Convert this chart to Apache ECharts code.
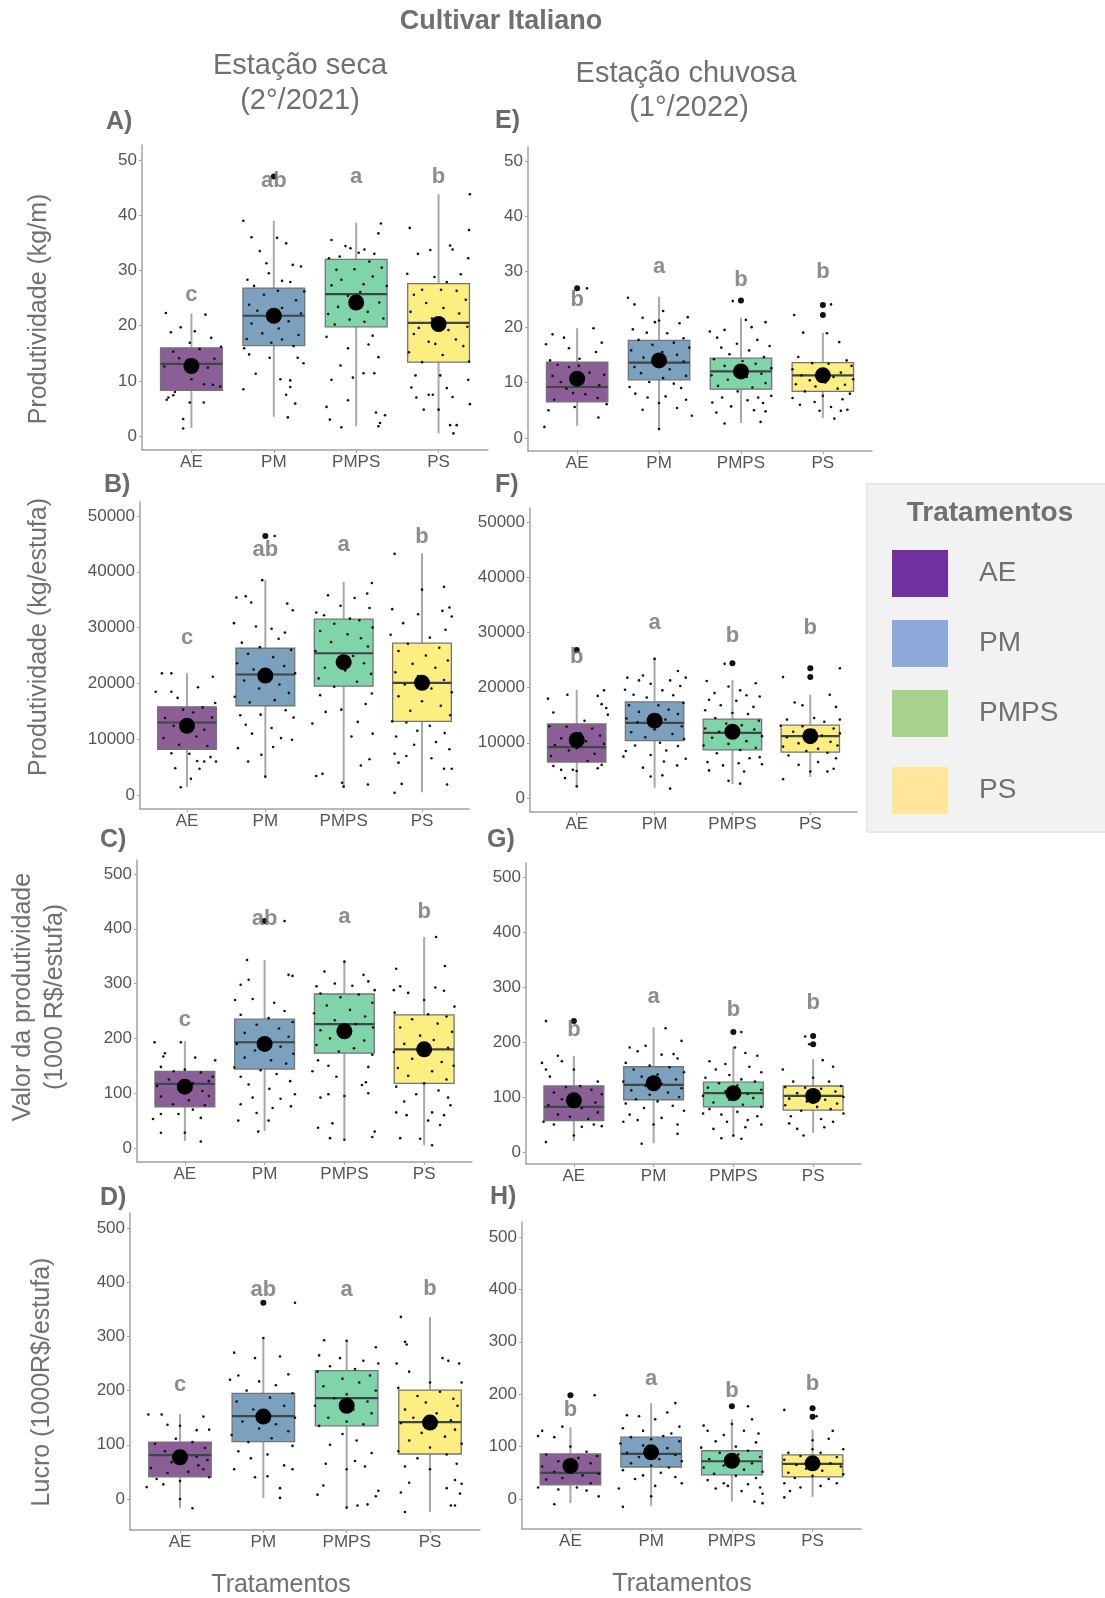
<!DOCTYPE html>
<html>
<head>
<meta charset="utf-8">
<script src="https://cdn.jsdelivr.net/npm/echarts@6/dist/echarts.min.js"></script>
<style>
html,body{margin:0;padding:0;background:#fff}
#chart{width:1105px;height:1598px}
</style>
</head>
<body>
<div id="chart"></div>
<script>
// ---------- data ----------
const categories = ['AE', 'PM', 'PMPS', 'PS'];
const ticksKgM = [0, 10, 20, 30, 40, 50];
const ticksKgEstufa = [0, 10000, 20000, 30000, 40000, 50000];
const ticksReais = [0, 100, 200, 300, 400, 500];

// box stats per treatment: [whisker low, Q1, median, Q3, whisker high]
// A) Produtividade (kg/m) - estação seca
const boxA = [[1.5, 8.3, 13.1, 16, 22.2], [3.5, 16.4, 21.8, 26.8, 39], [1.8, 19.8, 25.7, 32, 38.6], [0.5, 13.4, 20.5, 27.6, 43.8]];
const meanA = [12.7, 21.8, 24.2, 20.3];
const letterA = ['c', 'ab', 'a', 'b'];
const letterYA = [25.5, 46.2, 47, 47];
const outA = [[], [47], [], []];
const jitA = [
  [[-.31,22.3],[.17,22],[-.13,19.7],[.04,19],[-.25,18.8],[.24,17.8],[-.02,16.9],[.36,16.2],[-.22,15.3],[.1,15.8],[-.15,14.1],[.28,14],[-.05,13.8],[.2,12.4],[-.33,12.6],[0,10.3],[.15,9.4],[.26,9.3],[.35,9],[-.2,8],[-.28,7],[-.22,7.4],[-.3,6.6],[-.02,6.1],[.15,6.1],[-.1,3.1],[-.1,1.4]],
  [[-.37,39],[-.27,36],[.04,35.9],[.15,34.9],[-.17,33.5],[-.09,31.3],[.23,31],[.33,30.7],[-.06,29.5],[-.32,28.3],[.1,28.1],[.2,27.9],[-.24,27.2],[.05,26.3],[.37,26.2],[-.12,25.6],[.27,24.6],[-.3,23.8],[.1,23.2],[-.2,22.7],[.33,22.2],[-.05,21.4],[.18,20.8],[-.27,20.4],[.06,19.5],[-.14,18.6],[.3,18.3],[-.33,17.6],[.1,17.5],[-.03,16.9],[.24,16.3],[-.36,15.9],[-.3,14.8],[.29,14.2],[-.05,14.2],[.36,13.2],[-.22,11.3],[.08,10.3],[.2,10.1],[-.37,8.5],[.2,8.9],[.26,5.9],[.15,7.5],[.17,3.4]],
  [[.3,38.5],[.27,36.7],[-.3,35.5],[-.13,34.4],[-.07,34],[.1,33.8],[.03,33.2],[.22,33],[-.33,32.2],[-.2,32.5],[.16,31.6],[-.24,30.1],[-.02,30.2],[.31,30.5],[.2,28.9],[-.18,28.3],[.09,27.5],[-.3,27.3],[.37,27.2],[.05,26.1],[-.1,25.4],[.28,24.2],[-.22,23.4],[.14,22.5],[-.34,22.1],[.33,21.3],[-.08,21.1],[.1,20.7],[-.26,20.2],[.2,18.2],[-.36,18],[.15,16.6],[-.1,15.9],[.27,14.3],[-.19,12.8],[.09,11.4],[.22,11.4],[-.3,10.2],[-.04,10.6],[-.1,6.5],[-.36,5.3],[-.32,3],[.24,4.3],[.35,3.8],[.29,2.4],[.27,1.8],[-.18,1.6]],
  [[.38,43.8],[-.35,37.7],[.37,37.3],[.14,34.5],[-.1,33.7],[-.25,33],[.17,33.8],[.27,29.3],[-.38,29.4],[.36,32.2],[.1,27.9],[-.05,28.8],[.03,26.5],[-.2,26.5],[.22,26.3],[.33,24.7],[-.3,25.6],[-.15,24.1],[.06,23.2],[-.34,22.5],[.25,22.2],[-.08,21.3],[.35,19.8],[-.24,19.6],[.12,19.2],[-.3,18.5],[.21,17.5],[-.12,17.1],[.3,16.3],[-.04,16.7],[-.36,15.2],[.05,14.7],[.37,13.5],[-.2,13.4],[-.28,11],[.02,11],[.36,10.2],[-.33,8.8],[.1,8.7],[-.12,7.5],[-.07,7.5],[.17,7.1],[-.27,7],[.38,5.8],[-.18,4.8],[0,4.8],[.14,2],[.22,2],[.18,.5]]
];

// E) Produtividade (kg/m) - estação chuvosa
const boxE = [[2.2, 6.5, 9.2, 13.7, 19.8], [1.5, 10.5, 13.6, 17.6, 25.5], [2.7, 8.8, 12, 14.4, 21.7], [3.6, 8.4, 11.3, 13.6, 19]];
const meanE = [10.7, 14, 12, 11.3];
const letterE = ['b', 'a', 'b', 'b'];
const letterYE = [24.9, 30.9, 28.5, 30];
const outE = [[27], [], [24.8], [22.2, 24]];
const jitE = [
  [[.12,27],[-.38,16.9],[-.3,18.7],[-.16,18.1],[-.1,16.2],[.2,19.8],[.3,17.2],[.23,15.5],[.03,14.3],[-.33,14],[-.24,13.2],[-.1,12.8],[.02,13],[.33,11.4],[-.3,11.2],[.15,11.8],[-.2,10.1],[.05,9.8],[.27,9.5],[-.13,8.9],[-.05,8.1],[.1,7.9],[.25,7.2],[-.28,6.9],[.36,6.1],[-.03,5.6],[-.35,5],[.26,3.7],[-.4,2]],
  [[-.38,25.3],[-.3,24.1],[.05,22.9],[.35,21.8],[-.2,21.7],[0,21.2],[-.05,20.9],[.25,20.7],[-.32,19.6],[-.15,19],[.1,18.9],[.3,18],[-.25,17.7],[.18,17.2],[-.08,16.8],[.37,16.3],[-.34,15.8],[.04,15.5],[.22,15],[-.19,14.5],[.3,13.8],[-.04,13.2],[-.3,12.8],[.13,12.4],[-.22,11.7],[.33,11.2],[.05,10.8],[-.12,10.1],[.18,9.8],[-.36,9.2],[.27,9],[-.29,8],[.08,7.5],[-.14,7.3],[.33,6.9],[0,6.3],[-.2,5.1],[.22,5.4],[.4,4],[0,1.6]],
  [[-.38,19.2],[-.2,19.5],[-.1,24.7],[.06,21.3],[.3,20.9],[.13,20],[-.29,18.1],[.2,17.7],[-.05,17],[.35,16.6],[-.24,16.3],[.1,15.8],[-.14,15.1],[.28,14.6],[-.33,14.2],[.02,13.9],[.18,13.4],[-.2,13],[.37,12.6],[-.06,12.2],[.25,11.6],[-.36,11.3],[.07,11],[-.16,10.5],[.3,9.9],[-.28,9.4],[.14,9.1],[-.04,8.4],[.37,7.6],[-.23,7.3],[.21,7.3],[-.35,6.4],[.08,6.8],[.27,6.3],[-.12,5.7],[.16,5],[-.3,4.6],[.3,4.8],[.24,2.9],[-.2,2.6]],
  [[-.35,22.2],[.1,24.1],[-.24,19],[.2,17.3],[.05,18.9],[-.3,14.6],[.29,14],[-.13,13.5],[.07,13.4],[.35,13],[-.37,12.4],[-.05,12.2],[.22,11.8],[-.26,11.3],[.13,11],[.37,10.6],[-.16,10.4],[.03,10],[-.33,9.7],[.27,9.6],[-.09,9.3],[.18,8.9],[-.22,8.4],[.33,8],[0,7.6],[-.37,7.2],[.24,7],[-.1,6.5],[.1,5.6],[-.28,6],[.3,5.1],[.22,4.9],[-.04,4.9],[.14,3.5]]
];

// B) Produtividade (kg/estufa) - estação seca
const boxB = [[1400, 8200, 13000, 15800, 21800], [3400, 16000, 21600, 26300, 38500], [1500, 19500, 25400, 31500, 38200], [500, 13200, 20100, 27200, 43300]];
const meanB = [12400, 21400, 23800, 20100];
const letterB = ['c', 'ab', 'a', 'b'];
const letterYB = [28100, 44000, 44800, 46200];
const outB = [[], [46400], [], []];
const jitB = [
  [[-.32,21800],[-.2,21800],[.33,21200],[.14,19300],[-.4,18500],[-.2,18500],[-.12,17400],[.36,16500],[.2,15700],[-.05,15300],[.08,14800],[-.28,13800],[.32,13900],[0,13200],[-.17,12400],[.22,11700],[-.3,10200],[.12,10500],[-.1,9000],[.26,8800],[-.2,7500],[.03,7400],[.3,6800],[.13,6100],[.22,6000],[.37,6000],[-.15,4800],[.16,4700],[.05,2900],[-.08,1400]],
  [[.12,46400],[-.04,38500],[-.37,35400],[-.25,35600],[-.18,34500],[.28,34300],[.35,33100],[-.4,30800],[.08,29800],[-.12,30200],[.25,29100],[.17,28000],[-.3,27300],[-.07,26500],[.33,26000],[-.22,25300],[.1,24700],[-.36,23600],[.24,23100],[-.15,22500],[.38,21800],[.04,21200],[-.27,20500],[.18,19800],[-.08,19100],[.3,18300],[-.39,17600],[.12,17000],[-.2,16600],[.26,15200],[-.32,14300],[-.06,14400],[.36,13900],[-.25,12600],[.08,12000],[-.17,11000],[.2,10200],[.34,9900],[-.35,8400],[.1,8600],[-.05,7200],[-.22,6000],[0,3300]],
  [[.36,38000],[.3,36100],[-.2,35800],[.14,35300],[-.04,33900],[.33,33500],[-.35,32700],[-.25,32200],[.08,31600],[.2,31300],[-.12,30700],[.37,30000],[-.3,29400],[.05,28800],[.22,28100],[-.16,27400],[.31,26600],[-.36,25800],[.12,24900],[-.07,24300],[.26,23600],[-.24,22800],[.02,22300],[.35,21700],[-.32,20900],[.17,20300],[-.12,19400],[.36,18200],[-.3,17900],[.28,16300],[-.03,15300],[-.23,14900],[.18,13100],[.1,10500],[.37,11000],[-.4,12800],[.22,5300],[.33,6400],[-.27,3800],[-.02,2200],[0,1500],[.31,1900],[-.35,3400]],
  [[-.35,43200],[0,36800],[.28,37300],[-.38,33300],[.35,33600],[.26,33000],[-.05,32400],[.38,32000],[-.24,30800],[.3,29600],[-.4,28700],[.1,28200],[-.18,27100],[.22,26400],[-.3,25800],[.05,25000],[.33,24100],[-.12,23500],[.17,22800],[-.34,22000],[-.05,21300],[.28,20600],[-.22,19800],[.12,19100],[.38,18400],[-.3,17700],[0,16800],[.24,16000],[-.15,15100],[.36,14300],[-.38,13200],[-.2,13000],[.1,12400],[-.06,11500],[.29,11100],[-.33,10500],[.18,9500],[-.1,9000],[.35,8200],[-.35,7400],[-.2,7000],[.12,6600],[.28,4700],[.38,4700],[-.3,5800],[-.26,2000],[.32,1900],[-.35,400]]
];

// F) Produtividade (kg/estufa) - estação chuvosa
const boxF = [[2200, 6500, 9200, 13400, 19600], [1800, 10400, 13600, 17400, 25400], [2500, 8700, 11800, 14300, 21400], [3800, 8300, 11200, 13200, 18700]];
const meanF = [10500, 14000, 12000, 11200];
const letterF = ['b', 'a', 'b', 'b'];
const letterYF = [25500, 31700, 29300, 30800];
const outF = [[26800], [], [24400], [23500, 21900]];
const jitF = [
  [[-.37,18000],[.27,18500],[.35,19500],[-.12,18700],[.32,17000],[.38,16300],[-.3,15500],[.1,14000],[.4,15100],[-.35,13000],[-.13,12900],[.2,12600],[.05,11700],[.3,11300],[-.2,10800],[.12,10300],[-.28,9600],[.35,9800],[0,9000],[-.1,8600],[.23,8000],[-.33,7600],[.14,6700],[.32,6000],[-.3,5800],[-.2,5100],[.27,5400],[-.05,5100],[0,4900],[-.15,3600],[0,2100]],
  [[0,25200],[.3,23000],[-.15,22200],[-.35,21800],[.4,21800],[-.2,21300],[.2,21300],[-.05,20700],[.33,20300],[-.38,19600],[.1,19500],[-.27,18700],[.24,18600],[-.1,18200],[.37,17200],[-.33,16800],[.05,16800],[.18,16000],[-.2,15600],[.3,15200],[-.06,14900],[-.36,14400],[.14,14200],[-.22,13700],[.35,13000],[0,12400],[-.3,11900],[.23,11600],[-.12,11000],[.38,10700],[.07,10000],[-.25,9500],[.3,9400],[-.37,8500],[.15,8600],[-.05,7800],[-.4,7500],[.4,7100],[.12,6600],[-.15,5500],[.29,5900],[.1,4100],[-.05,3900],[.2,1700]],
  [[-.1,24300],[-.33,21200],[.3,20800],[-.05,20200],[.1,19500],[-.23,19000],[.18,18600],[-.3,17800],[.35,18400],[.05,17600],[-.15,16800],[.27,16500],[-.35,15900],[0,15400],[.2,15200],[-.22,14500],[.34,14000],[-.08,13500],[.12,13200],[-.35,12600],[.28,12400],[-.17,12000],[.05,11500],[.38,11200],[-.26,10900],[.18,10300],[-.05,9800],[-.37,9500],[.3,9100],[.1,8700],[-.2,8100],[.35,7400],[.22,7200],[-.32,6500],[.08,6300],[-.12,5900],[.38,6100],[-.3,5000],[.15,4800],[-.05,3100],[.1,2600]],
  [[.25,18700],[-.2,17300],[-.1,16800],[.33,16500],[.05,14500],[-.3,14200],[.38,14200],[.18,13800],[-.38,13100],[-.1,13000],[.3,12600],[.05,12300],[-.22,12000],[.38,11700],[.15,11300],[-.3,11000],[0,10500],[.26,10200],[-.15,9900],[.35,9500],[-.35,9300],[.1,8900],[-.05,8500],[.22,8200],[-.28,7700],[.33,7200],[.1,6500],[-.15,6000],[.3,5300],[0,4800],[.22,4800],[-.35,3400],[-.35,21900],[.38,23500]]
];

// C) Valor da produtividade (1000 R$/estufa) - estação seca
const boxC = [[13, 75, 117, 140, 195], [31, 144, 193, 235, 343], [16, 173, 226, 281, 340], [5, 118, 180, 243, 385]];
const meanC = [112, 190, 213, 180];
const letterC = ['c', 'ab', 'a', 'b'];
const letterYC = [234, 418, 421, 430];
const outC = [[], [414], [], []];
const jitC = [
  [[-.38,193],[-.05,193],[.13,165],[-.25,173],[-.27,167],[.38,160],[-.3,148],[0,143],[-.14,140],[.2,138],[.35,130],[-.2,125],[.3,122],[.1,118],[-.35,113],[-.08,109],[.22,104],[.3,95],[-.3,94],[.05,87],[-.15,80],[.25,78],[.1,70],[-.3,62],[-.08,62],[.2,55],[-.4,53],[0,28],[-.3,28],[.2,12]],
  [[.25,414],[-.22,343],[-.2,307],[-.3,298],[.3,316],[.35,314],[-.37,270],[-.15,272],[.12,265],[.25,250],[-.3,243],[.05,237],[.35,230],[-.1,225],[.18,218],[-.25,210],[.3,203],[0,197],[-.35,190],[.2,185],[-.12,178],[.36,172],[-.25,165],[.08,160],[.27,154],[-.38,147],[-.05,142],[.15,135],[-.3,130],[.32,122],[-.2,116],[.06,108],[.38,98],[-.15,92],[.2,90],[.33,76],[-.3,80],[.1,73],[-.1,64],[-.33,50],[.05,50],[-.08,30]],
  [[0,340],[-.25,322],[.24,316],[.3,304],[-.35,295],[-.12,300],[.1,296],[.38,288],[-.3,282],[.18,280],[-.05,275],[.35,265],[-.22,260],[.07,252],[-.38,246],[.26,240],[-.12,233],[.14,226],[.36,220],[-.3,215],[.03,208],[-.18,200],[.25,196],[-.35,188],[.12,182],[-.07,176],[.35,170],[-.33,160],[-.2,150],[.3,148],[-.4,140],[-.1,130],[.27,120],[.22,115],[.3,100],[-.2,98],[-.3,92],[0,95],[-.15,45],[-.33,37],[.38,30],[.35,20],[-.18,18],[0,15]],
  [[.15,385],[.26,332],[-.35,327],[-.3,295],[-.38,288],[.14,293],[.25,287],[-.2,283],[0,270],[.38,258],[-.37,247],[.05,244],[.28,240],[-.15,235],[.17,227],[-.3,220],[.35,212],[-.05,205],[.12,197],[-.25,190],[.3,183],[-.38,175],[.05,170],[-.15,163],[.22,157],[.37,150],[-.33,146],[.1,140],[-.2,132],[.28,125],[0,118],[-.35,112],[.18,105],[-.1,98],[.3,92],[-.25,85],[.33,78],[.1,65],[-.22,60],[-.35,65],[.25,60],[.05,50],[.2,42],[-.3,18],[.1,5],[-.05,17]]
];

// G) Valor da produtividade (1000 R$/estufa) - estação chuvosa
const boxG = [[20, 57, 82, 120, 175], [16, 95, 122, 155, 227], [27, 82, 107, 127, 191], [35, 76, 102, 120, 169]];
const meanG = [94, 125, 107, 102];
const letterG = ['b', 'a', 'b', 'b'];
const letterYG = [222, 282, 258, 271];
const outG = [[238], [], [218], [211, 196]];
const jitG = [
  [[-.35,238],[-.4,162],[-.35,150],[-.2,175],[-.15,165],[0,150],[.3,128],[-.3,137],[.08,120],[-.1,118],[.22,113],[-.25,108],[.35,105],[0,100],[-.15,96],[.27,90],[-.32,85],[.1,80],[.3,72],[-.2,68],[-.05,64],[.18,60],[-.38,55],[.25,50],[.35,47],[.1,46],[-.25,50],[0,30],[-.35,18]],
  [[.15,225],[-.3,190],[.35,202],[-.1,193],[.25,178],[-.2,183],[.1,177],[.3,170],[-.35,162],[-.05,157],[.2,154],[-.25,150],[.38,145],[.05,141],[-.15,137],[.28,132],[-.38,128],[.1,124],[-.1,120],[.35,116],[-.28,112],[.18,108],[-.05,104],[.32,100],[-.22,96],[.05,92],[-.35,88],[.24,84],[-.12,80],[.38,75],[-.3,68],[.1,62],[-.2,58],[.3,50],[-.38,55],[0,50],[.3,33],[-.15,15]],
  [[.1,218],[.02,190],[-.3,165],[.15,180],[.3,175],[-.1,160],[.2,155],[-.22,150],[.35,145],[-.05,140],[-.35,135],[.1,132],[.27,128],[-.18,125],[.05,121],[-.32,117],[.35,113],[-.1,110],[.18,106],[-.38,102],[.25,98],[-.05,95],[-.25,90],[.12,86],[.35,82],[-.3,78],[.05,73],[-.15,68],[.3,65],[-.38,70],[.18,58],[-.08,55],[.35,50],[.15,45],[-.25,42],[0,30],[-.15,25],[.1,24]],
  [[-.1,210],[-.05,196],[-.38,150],[.25,155],[.12,167],[0,135],[-.25,128],[.2,128],[.35,120],[-.35,118],[-.1,117],[.1,115],[.28,110],[-.2,107],[.05,104],[.38,100],[-.3,97],[.15,95],[-.08,92],[.3,88],[-.35,85],[.05,82],[.22,78],[-.15,75],[.38,70],[-.28,65],[.1,60],[-.3,52],[.25,55],[-.2,42],[.14,45],[-.12,30]]
];

// D) Lucro (1000R$/estufa) - estação seca
const boxD = [[-17, 41, 81, 105, 157], [2, 106, 153, 195, 297], [-16, 135, 186, 237, 293], [-24, 83, 142, 201, 336]];
const meanD = [77, 152, 172, 141];
const letterD = ['c', 'ab', 'a', 'b'];
const letterYD = [210, 386, 386, 387];
const outD = [[], [362], [], []];
const jitD = [
  [[-.38,156],[-.22,156],[.28,152],[-.15,137],[0,135],[.2,127],[.35,128],[-.05,111],[.15,105],[-.3,102],[.3,94],[-.18,88],[0,83],[.2,78],[.33,72],[-.1,68],[.22,62],[-.35,57],[.28,55],[.1,50],[-.15,48],[.35,40],[-.28,37],[0,33],[-.2,27],[-.4,22],[0,0],[.15,-17]],
  [[.38,362],[0,297],[-.35,270],[-.1,260],[-.4,220],[-.3,228],[.2,263],[.3,230],[-.05,217],[.15,210],[-.2,200],[.35,195],[.08,187],[-.32,180],[.25,172],[-.12,165],[.02,158],[.38,150],[-.25,143],[.15,138],[-.05,130],[.3,125],[-.38,118],[.1,112],[-.18,105],[.35,98],[-.3,88],[.05,82],[-.15,75],[.25,62],[-.35,55],[.35,55],[.05,42],[-.1,40],[.2,20],[.2,2]],
  [[-.27,293],[0,292],[.35,280],[-.33,265],[-.08,260],[.2,255],[.38,250],[-.2,245],[.1,240],[-.35,235],[.28,228],[-.05,222],[.15,215],[-.28,208],[.35,200],[0,193],[-.15,186],[.25,180],[-.38,172],[.08,165],[.3,158],[-.22,150],[0,143],[.2,138],[-.33,135],[-.05,120],[.12,108],[-.2,100],[.3,85],[.1,70],[-.25,65],[0,55],[.22,60],[-.28,25],[.38,15],[-.35,8],[.35,5],[.25,-10],[.13,-12],[0,-16]],
  [[-.35,336],[-.3,290],[-.28,285],[-.4,250],[.15,260],[.22,255],[.35,250],[-.25,235],[0,215],[.38,215],[-.38,205],[.12,198],[-.15,190],[.28,185],[-.05,178],[.33,172],[-.3,165],[.08,158],[-.2,150],[.25,145],[-.35,140],[.05,135],[.3,128],[-.1,122],[.18,115],[-.25,108],[.38,102],[0,95],[-.38,88],[.2,82],[-.15,75],[.32,65],[-.3,60],[0,55],[.3,35],[-.25,30],[.38,28],[.2,20],[-.35,12],[.36,10],[.25,-12],[.3,-12],[-.3,-24]]
];

// H) Lucro (1000R$/estufa) - estação chuvosa
const boxH = [[-8, 27, 50, 86, 137], [-13, 61, 86, 118, 183], [-5, 46, 72, 92, 152], [4, 42, 67, 84, 132]];
const meanH = [63, 89, 73, 68];
const letterH = ['b', 'a', 'b', 'b'];
const letterYH = [170, 229, 206, 219];
const outH = [[198], [], [177], [173, 157]];
const jitH = [
  [[.3,198],[-.35,130],[-.4,120],[-.1,138],[-.2,118],[0,100],[.2,90],[.33,82],[-.3,85],[.1,78],[-.15,72],[.25,68],[-.35,62],[.05,58],[-.2,52],[.35,48],[.15,45],[-.1,40],[-.3,37],[.25,30],[-.4,22],[.08,22],[-.15,18],[.2,16],[.35,5],[-.2,-10]],
  [[.3,183],[-.3,160],[-.15,158],[.2,165],[.05,152],[-.35,135],[.35,138],[-.1,130],[.25,125],[.15,120],[-.25,118],[0,114],[.35,110],[-.38,106],[-.1,102],[.2,97],[.05,92],[-.3,88],[.3,84],[-.15,80],[.1,76],[.38,72],[-.25,68],[0,64],[.22,60],[-.35,55],[.12,50],[-.1,45],[.3,42],[-.2,38],[.38,30],[.05,25],[-.4,20],[0,5],[-.35,-15]],
  [[.2,177],[0,143],[-.3,130],[-.35,140],[.15,130],[.25,152],[.33,125],[-.1,122],[-.2,110],[.3,108],[.05,100],[-.38,98],[.2,92],[-.15,88],[.08,85],[.35,80],[-.28,76],[0,72],[.25,68],[-.1,64],[-.35,60],[.15,56],[.38,52],[-.22,48],[.05,44],[.3,40],[-.3,36],[-.1,30],[.2,28],[.35,22],[-.05,25],[.12,15],[.38,10],[-.2,20],[.28,-5],[.38,-8]],
  [[-.35,170],[.05,158],[.25,130],[.2,115],[0,112],[.38,95],[-.3,88],[0,95],[.1,88],[-.15,82],[.3,80],[-.35,75],[.05,72],[.22,68],[-.2,65],[.35,62],[-.08,58],[.12,54],[-.3,50],[.38,47],[0,44],[-.22,40],[.2,38],[-.35,30],[.1,25],[-.15,22],[-.28,15],[-.35,3],[.3,30]]
];

// ---------- styling / layout ----------
const FONT = 'Liberation Sans, Arial, sans-serif';
const boxFill = ['#8c5e97', '#7ca1bf', '#80d4aa', '#fcee80'];
const legendFill = ['#7030a0', '#8eaadb', '#a9d18e', '#ffe699'];
const TXT = '#707070';
const AXIS = '#a3a3a3';

const panels = [
  { box: boxA, mean: meanA, letter: letterA, letterY: letterYA, out: outA, jit: jitA, ticks: ticksKgM, rect: [142, 145, 346, 305], yMin: -2.5, yMax: 52.7 },
  { box: boxE, mean: meanE, letter: letterE, letterY: letterYE, out: outE, jit: jitE, ticks: ticksKgM, rect: [528, 147, 344, 304], yMin: -2.35, yMax: 52.5 },
  { box: boxB, mean: meanB, letter: letterB, letterY: letterYB, out: outB, jit: jitB, ticks: ticksKgEstufa, rect: [140, 502, 329, 307], yMin: -2500, yMax: 52500 },
  { box: boxF, mean: meanF, letter: letterF, letterY: letterYF, out: outF, jit: jitF, ticks: ticksKgEstufa, rect: [530, 508, 327, 304], yMin: -2540, yMax: 52540 },
  { box: boxC, mean: meanC, letter: letterC, letterY: letterYC, out: outC, jit: jitC, ticks: ticksReais, rect: [137, 860, 335, 302], yMin: -25.5, yMax: 525.5 },
  { box: boxG, mean: meanG, letter: letterG, letterY: letterYG, out: outG, jit: jitG, ticks: ticksReais, rect: [526, 863, 335, 301], yMin: -21.8, yMax: 525.5 },
  { box: boxD, mean: meanD, letter: letterD, letterY: letterYD, out: outD, jit: jitD, ticks: ticksReais, rect: [130, 1213, 350, 317], yMin: -57.2, yMax: 527.7 },
  { box: boxH, mean: meanH, letter: letterH, letterY: letterYH, out: outH, jit: jitH, ticks: ticksReais, rect: [522, 1222, 339, 307], yMin: -57.3, yMax: 528.6 }
];

const HALF = 0.375; // half box width in category units

function renderBox(params, api) {
  const x = api.value(0);
  const lo = api.value(1), q1 = api.value(2), md = api.value(3), q3 = api.value(4), hi = api.value(5);
  const tl = api.coord([x - HALF, q3]);
  const br = api.coord([x + HALF, q1]);
  const top = api.coord([x, hi]);
  const pq3 = api.coord([x, q3]);
  const pq1 = api.coord([x, q1]);
  const bot = api.coord([x, lo]);
  const ml = api.coord([x - HALF, md]);
  const mr = api.coord([x + HALF, md]);
  const wStyle = { stroke: '#a8a8a8', lineWidth: 2 };
  return {
    type: 'group',
    children: [
      { type: 'line', shape: { x1: top[0], y1: top[1], x2: pq3[0], y2: pq3[1] }, style: wStyle },
      { type: 'line', shape: { x1: pq1[0], y1: pq1[1], x2: bot[0], y2: bot[1] }, style: wStyle },
      { type: 'rect', shape: { x: tl[0], y: tl[1], width: br[0] - tl[0], height: br[1] - tl[1] },
        style: { fill: boxFill[x - 1], stroke: '#747474', lineWidth: 1.3 } },
      { type: 'line', shape: { x1: ml[0], y1: ml[1], x2: mr[0], y2: mr[1] }, style: { stroke: '#3d4646', lineWidth: 2.2 } }
    ]
  };
}

const grid = [], xAxis = [], yAxis = [], series = [];
panels.forEach((p, k) => {
  grid.push({ left: p.rect[0], top: p.rect[1], width: p.rect[2], height: p.rect[3], containLabel: false, outerBoundsMode: 'none' });
  xAxis.push({
    gridIndex: k, type: 'value', min: 0.4, max: 4.6,
    axisLine: { show: true, onZero: false, lineStyle: { color: AXIS, width: 1.5 } },
    axisTick: { show: true, customValues: [1, 2, 3, 4], length: 3, lineStyle: { color: AXIS } },
    axisLabel: { customValues: [1, 2, 3, 4], formatter: v => categories[Math.round(v) - 1], color: '#555', fontSize: 17, fontFamily: FONT, margin: 4 },
    splitLine: { show: false }
  });
  yAxis.push({
    gridIndex: k, type: 'value', min: p.yMin, max: p.yMax,
    axisLine: { show: true, onZero: false, lineStyle: { color: AXIS, width: 1.5 } },
    axisTick: { show: true, customValues: p.ticks, length: 3, lineStyle: { color: AXIS } },
    axisLabel: { customValues: p.ticks, formatter: v => String(v), color: '#555', fontSize: 17, fontFamily: FONT, margin: 5 },
    splitLine: { show: false }
  });
  series.push({
    type: 'custom', xAxisIndex: k, yAxisIndex: k, z: 2,
    renderItem: renderBox, encode: { x: 0, y: [1, 2, 3, 4, 5] },
    data: p.box.map((b, i) => [i + 1].concat(b))
  });
  const pts = [];
  p.jit.forEach((arr, i) => arr.forEach(d => pts.push([i + 1 + d[0], d[1]])));
  series.push({
    type: 'scatter', xAxisIndex: k, yAxisIndex: k, z: 3, symbolSize: 2.6,
    itemStyle: { color: '#111', opacity: 1 }, data: pts
  });
  const outs = [];
  p.out.forEach((arr, i) => arr.forEach(v => outs.push([i + 1, v])));
  series.push({
    type: 'scatter', xAxisIndex: k, yAxisIndex: k, z: 3, symbolSize: 6,
    itemStyle: { color: '#111', opacity: 1 }, data: outs
  });
  series.push({
    type: 'scatter', xAxisIndex: k, yAxisIndex: k, z: 4, symbolSize: 16,
    itemStyle: { color: '#000', opacity: 1 }, data: p.mean.map((m, i) => [i + 1, m])
  });
  series.push({
    type: 'scatter', xAxisIndex: k, yAxisIndex: k, z: 5, symbolSize: 0,
    data: p.letter.map((t, i) => [i + 1, p.letterY[i], t]),
    label: { show: true, position: 'inside', formatter: d => d.data[2], color: TXT, fontSize: 22, fontWeight: 'bold', fontFamily: FONT }
  });
});

function txt(text, x, y, size, opts) {
  return Object.assign({
    type: 'text', x: x, y: y,
    style: { text: text, fill: TXT, font: (opts && opts.bold ? 'bold ' : '') + size + 'px ' + FONT, textAlign: 'center', textVerticalAlign: 'middle' }
  }, opts && opts.rotation ? { rotation: opts.rotation } : {});
}
function panelTag(text, x, y) {
  return { type: 'text', x: x, y: y, style: { text: text, fill: '#6a6a6a', font: 'bold 25px ' + FONT, textAlign: 'left', textVerticalAlign: 'middle' } };
}

const graphic = [
  txt('Cultivar Italiano', 501, 22, 27, { bold: true }),
  txt('Estação seca', 300, 66, 29),
  txt('(2°/2021)', 300, 101, 29),
  txt('Estação chuvosa', 686, 74, 29),
  txt('(1°/2022)', 689, 108, 29),
  panelTag('A)', 106, 122), panelTag('E)', 495, 121),
  panelTag('B)', 104, 485), panelTag('F)', 495, 485),
  panelTag('C)', 100, 840), panelTag('G)', 487, 840),
  panelTag('D)', 100, 1198), panelTag('H)', 490, 1197),
  txt('Produtividade (kg/m)', 39, 309, 25, { rotation: Math.PI / 2 }),
  txt('Produtividade (kg/estufa)', 39, 637, 25, { rotation: Math.PI / 2 }),
  txt('Valor da produtividade', 23, 997, 25, { rotation: Math.PI / 2 }),
  txt('(1000 R$/estufa)', 55, 997, 25, { rotation: Math.PI / 2 }),
  txt('Lucro (1000R$/estufa)', 42, 1382, 25, { rotation: Math.PI / 2 }),
  txt('Tratamentos', 281, 1585, 25),
  txt('Tratamentos', 682, 1584, 25),
  // legend
  { type: 'rect', shape: { x: 867, y: 484, width: 240, height: 348 }, style: { fill: '#f2f2f2', stroke: '#e2e2e2', lineWidth: 1.5 } },
  txt('Tratamentos', 990, 513, 28, { bold: true })
];
const legendRowY = [550, 620, 690, 767];
categories.forEach((c, i) => {
  graphic.push({ type: 'rect', shape: { x: 892, y: legendRowY[i], width: 56, height: 47 }, style: { fill: legendFill[i] } });
  graphic.push({ type: 'text', x: 979, y: legendRowY[i] + 23, style: { text: c, fill: TXT, font: '28px ' + FONT, textAlign: 'left', textVerticalAlign: 'middle' } });
});

const chart = echarts.init(document.getElementById('chart'), null, { renderer: 'canvas' });
chart.setOption({
  animation: false,
  backgroundColor: '#fff',
  grid: grid, xAxis: xAxis, yAxis: yAxis, series: series,
  graphic: graphic
});
</script>
</body>
</html>
